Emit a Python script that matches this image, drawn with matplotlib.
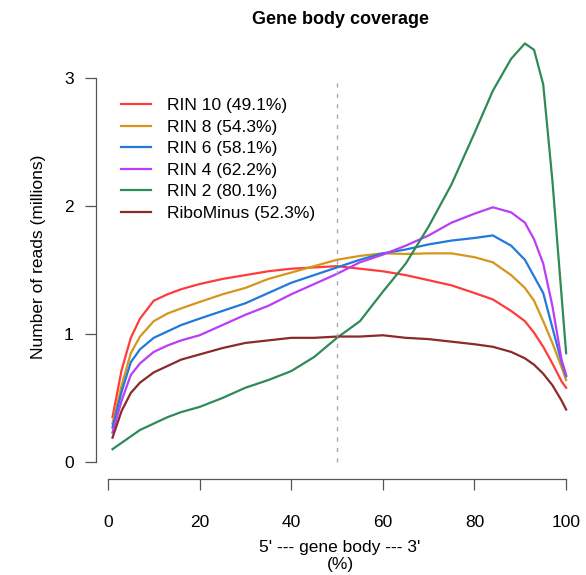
import matplotlib
matplotlib.use('Agg')
import matplotlib.pyplot as plt

plt.rcParams['font.family'] = ['Liberation Sans', 'DejaVu Sans']

# gene body position (%)
pos = [1, 3, 5, 7, 10, 13, 16, 20, 25, 30, 35, 40, 45, 50, 55, 60, 65, 70,
       75, 80, 84, 88, 91, 93, 95, 97, 99, 100]

rin10 = [0.35, 0.72, 0.97, 1.12, 1.26, 1.31, 1.35, 1.39, 1.43, 1.46, 1.49, 1.51, 1.52, 1.53,
         1.51, 1.49, 1.46, 1.42, 1.38, 1.32, 1.27, 1.18, 1.10, 1.01, 0.90, 0.77, 0.63, 0.58]
rin8 = [0.30, 0.60, 0.85, 0.98, 1.10, 1.16, 1.20, 1.25, 1.31, 1.36, 1.43, 1.48, 1.53, 1.58,
        1.61, 1.63, 1.625, 1.63, 1.63, 1.60, 1.56, 1.46, 1.36, 1.26, 1.10, 0.93, 0.74, 0.64]
rin6 = [0.27, 0.55, 0.78, 0.88, 0.97, 1.02, 1.07, 1.12, 1.18, 1.24, 1.32, 1.40, 1.46, 1.52,
        1.58, 1.63, 1.66, 1.70, 1.73, 1.75, 1.77, 1.69, 1.58, 1.45, 1.32, 1.05, 0.78, 0.67]
rin4 = [0.23, 0.48, 0.68, 0.77, 0.86, 0.91, 0.95, 0.99, 1.07, 1.15, 1.22, 1.31, 1.39, 1.47,
        1.56, 1.62, 1.69, 1.77, 1.87, 1.94, 1.99, 1.95, 1.87, 1.74, 1.55, 1.22, 0.80, 0.68]
rin2 = [0.10, 0.15, 0.20, 0.25, 0.30, 0.35, 0.39, 0.43, 0.50, 0.58, 0.64, 0.71, 0.82, 0.97,
        1.10, 1.33, 1.55, 1.84, 2.17, 2.57, 2.90, 3.15, 3.27, 3.22, 2.95, 2.20, 1.30, 0.85]
ribominus = [0.19, 0.40, 0.54, 0.62, 0.70, 0.75, 0.80, 0.84, 0.89, 0.93, 0.95, 0.97, 0.97, 0.98,
             0.98, 0.99, 0.97, 0.96, 0.94, 0.92, 0.90, 0.86, 0.81, 0.76, 0.69, 0.60, 0.48, 0.41]

labels = ['RIN 10 (49.1%)', 'RIN 8 (54.3%)', 'RIN 6 (58.1%)', 'RIN 4 (62.2%)',
          'RIN 2 (80.1%)', 'RiboMinus (52.3%)']
series = [rin10, rin8, rin6, rin4, rin2, ribominus]
colors = ['#FF3B3B', '#D4961C', '#2278DB', '#BB3DF5', '#2E8B57', '#8B2A2A']

W, H = 586, 575
fig = plt.figure(figsize=(W / 100, H / 100), dpi=100)
# plot region in pixels: left 96, right 584, bottom 479, top 35
ax = fig.add_axes([96 / W, 1 - 479 / H, (584 - 96) / W, (479 - 35) / H])

for vals, lab, col in zip(series, labels, colors):
    ax.plot(pos, vals, color=col, lw=1.6, label=lab)

# dashed mid-line of the gene body
ax.vlines(50, 0, 3, color='#aaaaaa', lw=1, linestyles=[(0, (3, 4.5))])

ax.set_xlim(-2.6, 103.9)
ax.set_ylim(-0.133, 3.336)
ax.spines['top'].set_visible(False)
ax.spines['right'].set_visible(False)
ax.spines['left'].set_bounds(0, 3)
ax.spines['bottom'].set_bounds(0, 100)
for s in ('left', 'bottom'):
    ax.spines[s].set_color('#555555')
    ax.spines[s].set_linewidth(0.9)
ax.set_xticks([0, 20, 40, 60, 80, 100])
ax.set_yticks([0, 1, 2, 3])
ax.tick_params(length=8, width=0.9, color='#555555', labelsize=12.5)
ax.tick_params(axis='x', pad=18)
ax.tick_params(axis='y', pad=8)

ax.set_xlabel("5' --- gene body --- 3'\n(%)", fontsize=12.5, labelpad=7)
ax.set_ylabel('Number of reads (millions)', fontsize=12.5, labelpad=13)
ax.set_title('Gene body coverage', fontsize=13, fontweight='bold', pad=8)

ax.legend(loc='upper left', bbox_to_anchor=(114 / W, 1 - 91 / H), bbox_transform=fig.transFigure,
          frameon=False, fontsize=12.5, handlelength=1.75, handletextpad=0.9,
          labelspacing=0.37, borderaxespad=0)

fig.savefig('out.png', dpi=100)
